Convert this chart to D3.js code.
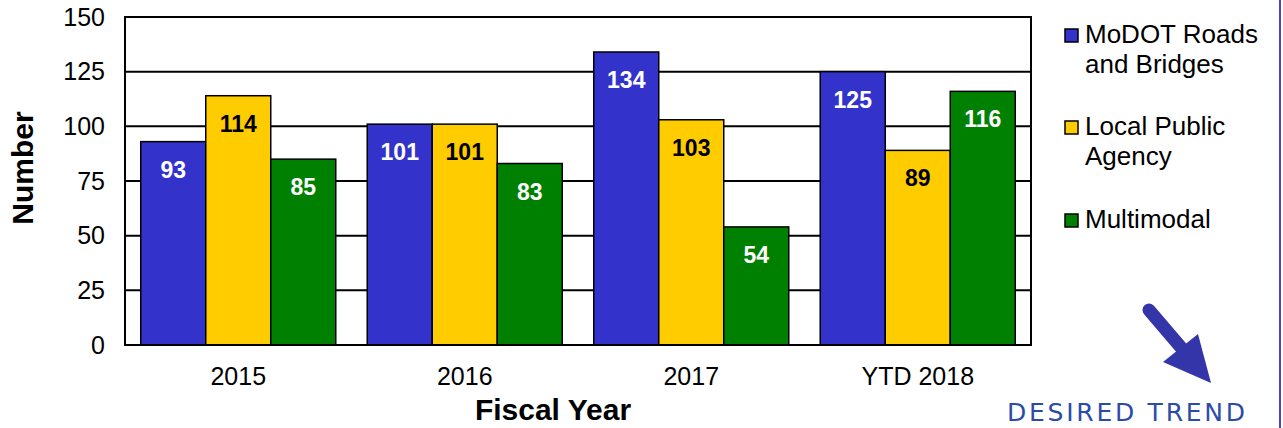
<!DOCTYPE html>
<html><head><meta charset="utf-8">
<script src="https://cdn.jsdelivr.net/npm/d3@7"></script>
<style>body{margin:0;background:#fff}svg{display:block}</style>
</head><body>
<svg id="c" width="1283" height="428"></svg>
<script>
const categories = ["2015", "2016", "2017", "YTD 2018"];
const seriesNames = ["MoDOT Roads and Bridges", "Local Public Agency", "Multimodal"];
const legendLines = [["MoDOT Roads", "and Bridges"], ["Local Public", "Agency"], ["Multimodal"]];
const modot = [93, 101, 134, 125];
const lpa = [114, 101, 103, 89];
const multimodal = [85, 83, 54, 116];
const yTicks = [0, 25, 50, 75, 100, 125, 150];
const colors = ["#3333CC", "#FFCC00", "#008000"];
const labelColors = ["#fff", "#000", "#fff"];

const seriesValues = [modot, lpa, multimodal];
const svg = d3.select("#c");
const font = "'Liberation Sans', Arial, sans-serif";
const L = 125, R = 1031, T = 17, B = 345;

const y = d3.scaleLinear().domain([0, 150]).range([B, T]);
const x0 = d3.scaleBand().domain(categories).range([L, R]).paddingInner(0.139).paddingOuter(0.0695);
const x1 = d3.scaleBand().domain(d3.range(3)).range([0, x0.bandwidth()]);

// gridlines
svg.append("g").selectAll("line").data(yTicks).join("line")
  .attr("x1", L).attr("x2", R).attr("y1", d => y(d)).attr("y2", d => y(d))
  .attr("stroke", "#000").attr("stroke-width", 2);

// bars
const groups = svg.append("g").selectAll("g").data(categories).join("g")
  .attr("transform", c => `translate(${x0(c)},0)`);
groups.each(function(c, ci) {
  const g = d3.select(this);
  seriesValues.forEach((vals, si) => {
    const v = vals[ci];
    g.append("rect").attr("x", x1(si)).attr("width", x1.bandwidth())
      .attr("y", y(v)).attr("height", y(0) - y(v))
      .attr("fill", colors[si]).attr("stroke", "#000").attr("stroke-width", 1.5);
    g.append("text").attr("x", x1(si) + x1.bandwidth() / 2).attr("y", y(v) + 36)
      .attr("text-anchor", "middle").attr("font-family", font).attr("font-weight", "bold")
      .attr("font-size", 23).attr("fill", labelColors[si]).text(v);
  });
});

// plot frame
svg.append("rect").attr("x", L).attr("y", T).attr("width", R - L).attr("height", B - T)
  .attr("fill", "none").attr("stroke", "#000").attr("stroke-width", 2);

// y axis
const yAxis = d3.axisLeft(y).tickValues(yTicks).tickSize(0).tickPadding(20);
const ya = svg.append("g").attr("transform", `translate(${L},0)`).call(yAxis);
ya.select(".domain").remove();
ya.selectAll("text").attr("font-family", font).attr("font-size", 25).attr("fill", "#000");

// x axis
const xAxis = d3.axisBottom(x0).tickSize(0).tickPadding(22);
const xa = svg.append("g").attr("transform", `translate(0,${B})`).call(xAxis);
xa.select(".domain").remove();
xa.selectAll("text").attr("font-family", font).attr("font-size", 25).attr("fill", "#000");

// axis titles
svg.append("text").attr("x", 553).attr("y", 420).attr("text-anchor", "middle")
  .attr("font-family", font).attr("font-weight", "bold").attr("font-size", 30).text("Fiscal Year");
svg.append("text").attr("transform", "translate(33,168) rotate(-90)").attr("text-anchor", "middle")
  .attr("font-family", font).attr("font-weight", "bold").attr("font-size", 30).text("Number");

// legend
const legendY = [43, 135, 228];
legendLines.forEach((lines, i) => {
  svg.append("rect").attr("x", 1065).attr("y", legendY[i] - 14).attr("width", 13).attr("height", 13)
    .attr("fill", colors[i]).attr("stroke", "#000").attr("stroke-width", 1.5);
  lines.forEach((t, j) => {
    svg.append("text").attr("x", 1085).attr("y", legendY[i] + j * 30)
      .attr("font-family", font).attr("font-size", 26).attr("fill", "#000").text(t);
  });
});

// desired trend arrow
const arrowColor = "#3535AA";
svg.append("line").attr("x1", 1149).attr("y1", 310).attr("x2", 1190).attr("y2", 358)
  .attr("stroke", arrowColor).attr("stroke-width", 13).attr("stroke-linecap", "round");
svg.append("path").attr("d", "M1163,362 L1198,334 L1211,383 Z").attr("fill", arrowColor);
svg.append("text").attr("x", 1126).attr("y", 421).attr("text-anchor", "middle")
  .attr("font-family", "'DejaVu Sans', sans-serif").attr("font-size", 25)
  .attr("textLength", 238).attr("lengthAdjust", "spacing")
  .attr("fill", "#2B4BA8").text("DESIRED TREND");

// right edge line
svg.append("line").attr("x1", 1280).attr("x2", 1280).attr("y1", 0).attr("y2", 428)
  .attr("stroke", "#4444DD").attr("stroke-width", 2);
</script>
</body></html>
